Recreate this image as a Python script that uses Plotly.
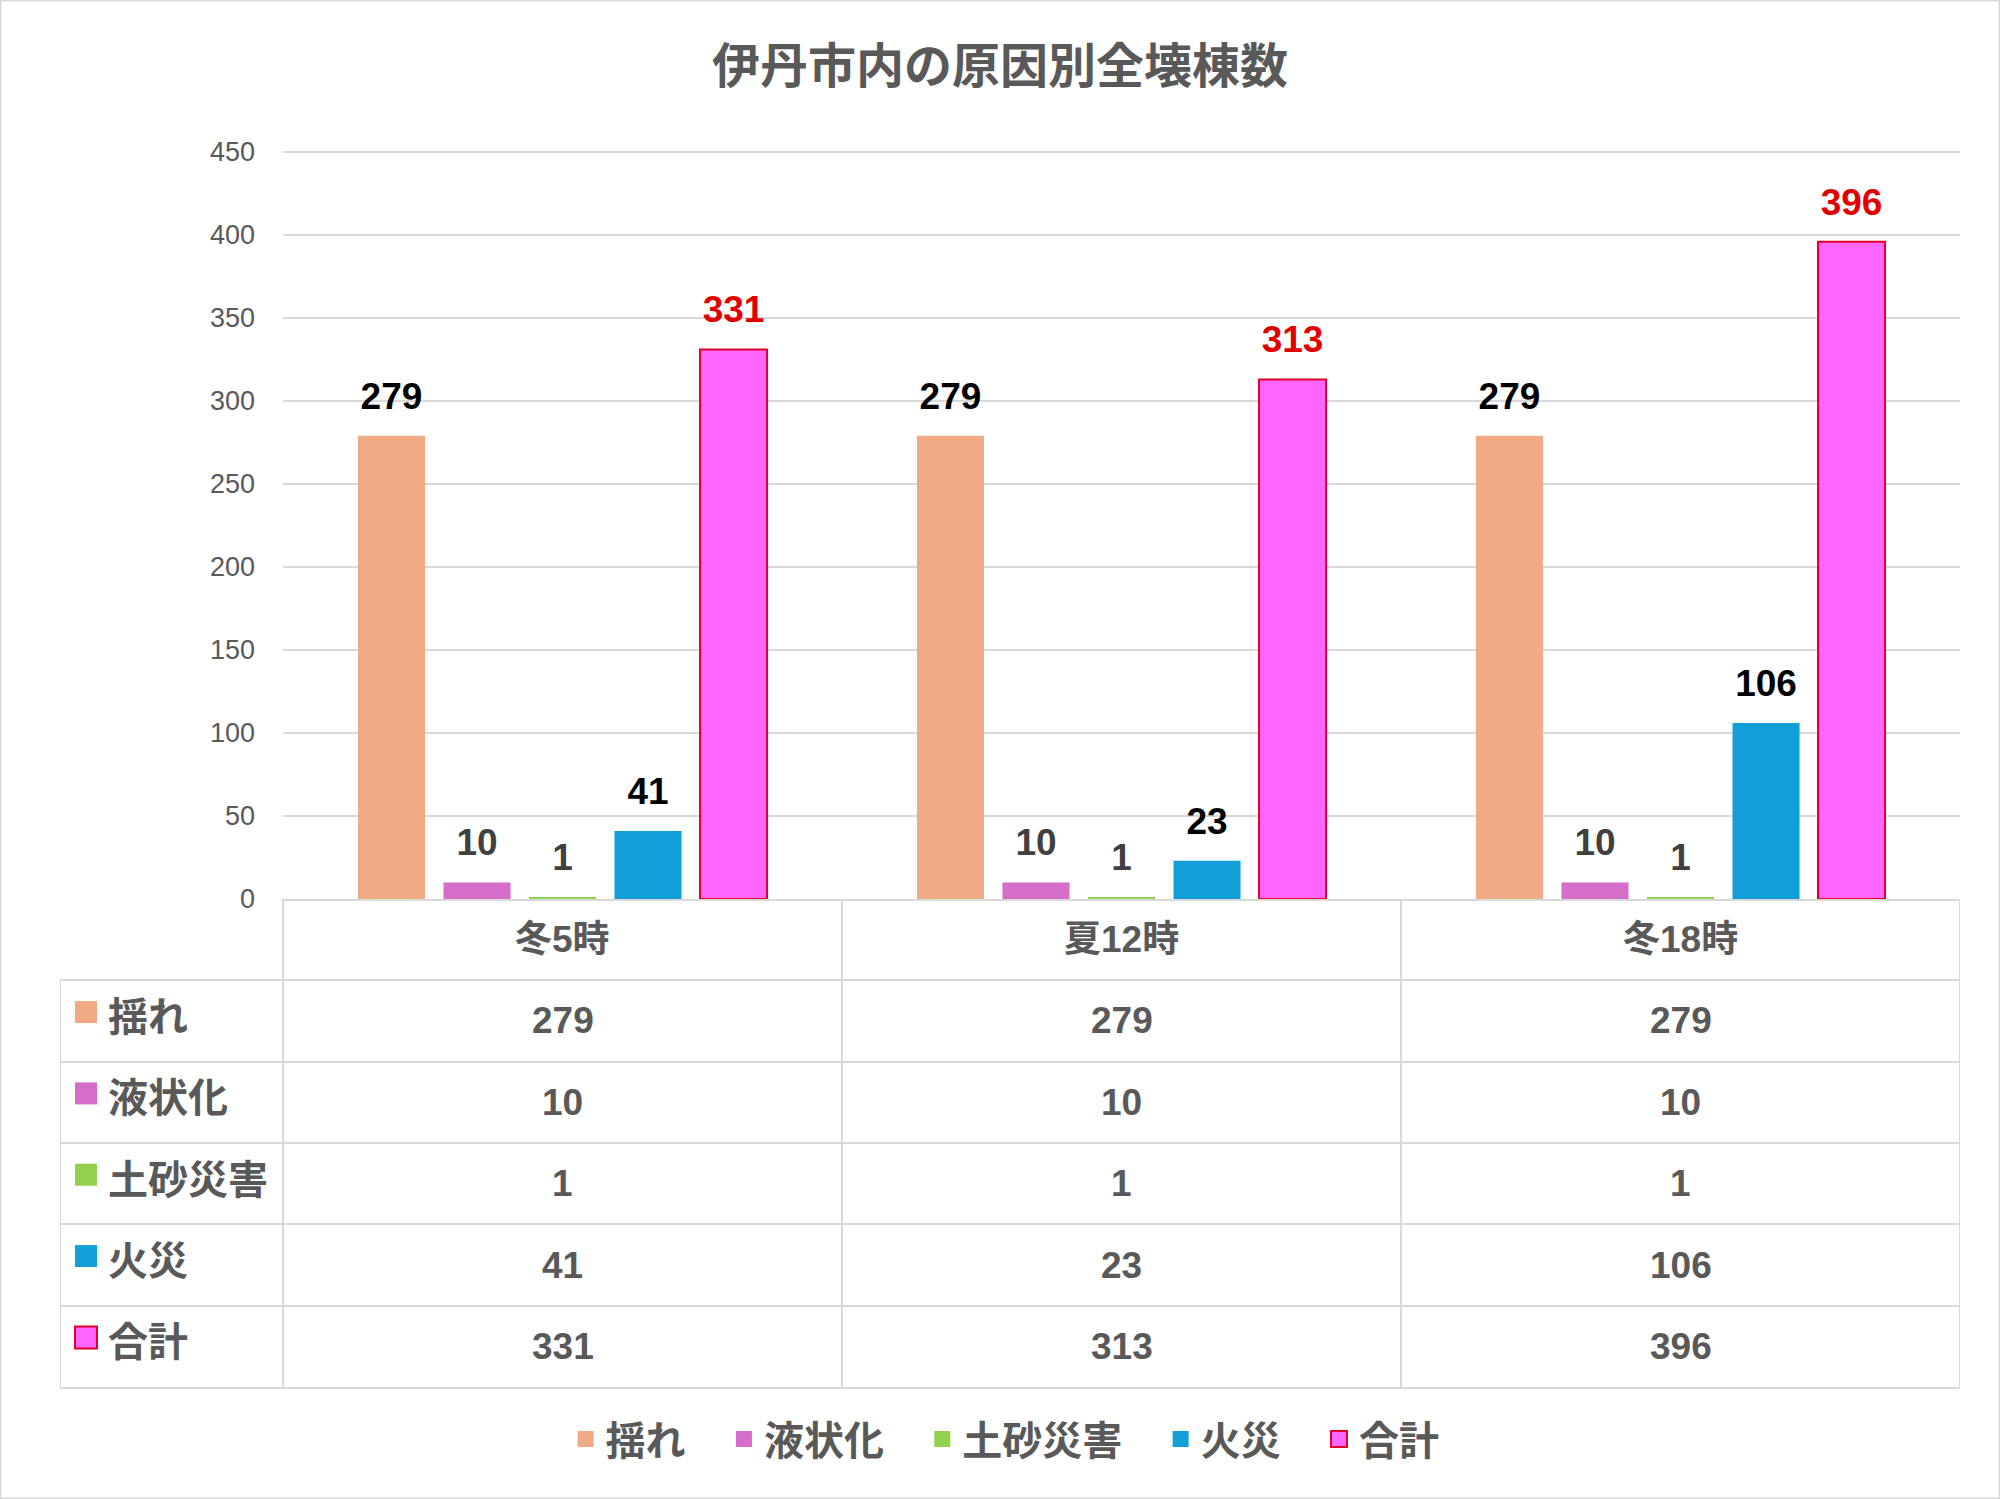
import plotly.graph_objects as go

# data
categories = ["冬5時", "夏12時", "冬18時"]
series_names = ["揺れ", "液状化", "土砂災害", "火災", "合計"]
shake = [279, 279, 279]
liquefaction = [10, 10, 10]
landslide = [1, 1, 1]
fire = [41, 23, 106]
total = [331, 313, 396]
series_values = [shake, liquefaction, landslide, fire, total]
y_max = 450

fill_colors = ["#F0AA86", "#D66DC9", "#92D050", "#129FD7", "#FF66FF"]
line_colors = ["#F0AA86", "#D66DC9", "#92D050", "#129FD7", "#E0002A"]
line_widths = [0, 0, 0, 0, 2]
label_colors = ["#000000", "#404040", "#404040", "#000000", "#E00000"]

FONT = "Liberation Sans, Arial, Noto Sans CJK JP, sans-serif"
GRAY = "#595959"
GRID = "#D9D9D9"

W, H = 2000, 1499
# pixel layout -> paper fractions
plot_l, plot_r, plot_t, plot_b = 283, 1960, 152, 899
table_l, table_b = 60, 1387
px_per_unit = (plot_b - plot_t) / y_max
y_top = y_max + 3                    # a little headroom so the top grid line is drawn
plot_t_ext = plot_b - y_top * px_per_unit
n_rows = len(series_names) + 1       # header + one per series
col_w = (plot_r - plot_l) / len(categories)
x2_min = -0.5 - (plot_l - table_l) / col_w

fig = go.Figure()

for name, vals, fc, lc, lw in zip(series_names, series_values, fill_colors, line_colors, line_widths):
    fig.add_trace(go.Bar(
        x=categories, y=vals, name=name, offsetgroup=name,
        marker=dict(color=fc, line=dict(color=lc, width=lw)),
        showlegend=False, hoverinfo="skip",
    ))

# value labels above bars, grouped like the bars
for name, vals, col in zip(series_names, series_values, label_colors):
    fig.add_trace(go.Scatter(
        x=categories, y=vals, mode="markers+text", orientation="v",
        text=[str(v) for v in vals], textposition="top center",
        textfont=dict(family=FONT, size=37, color=col, weight="bold"),
        marker=dict(size=27, opacity=0),
        offsetgroup=name, showlegend=False, hoverinfo="skip", cliponaxis=False,
    ))

# legend keys in the data table (these also feed the bottom legend)
for i, (name, fc, lc, lw) in enumerate(zip(series_names, fill_colors, line_colors, line_widths)):
    fig.add_trace(go.Scatter(
        x=[x2_min + 26 / col_w], y=[i + 1 - 0.11], mode="markers",
        name=name + "\u00a0\u00a0\u00a0", offsetgroup="key", orientation="v",
        marker=dict(symbol="square", size=22, color=fc, line=dict(color=lc, width=lw)),
        xaxis="x2", yaxis="y2", hoverinfo="skip", cliponaxis=False,
    ))

# table texts
for j, cat in enumerate(categories):
    fig.add_annotation(x=j, y=0, xref="x2", yref="y2", text="<b>" + cat + "</b>",
                       showarrow=False, font=dict(family=FONT, size=37, color=GRAY))
for i, (name, vals) in enumerate(zip(series_names, series_values)):
    fig.add_annotation(x=x2_min + 46 / col_w, y=i + 1, xref="x2", yref="y2", xanchor="left",
                       text="<b>" + name + "</b>", showarrow=False, yshift=4,
                       font=dict(family=FONT, size=40, color=GRAY))
    for j, v in enumerate(vals):
        fig.add_annotation(x=j, y=i + 1, xref="x2", yref="y2", text="<b>" + str(v) + "</b>",
                           showarrow=False, font=dict(family=FONT, size=37, color=GRAY))

# table borders not covered by grid lines
fig.add_shape(type="line", xref="x2", yref="y2", x0=x2_min, x1=x2_min, y0=0.5, y1=n_rows - 0.5,
              line=dict(color=GRID, width=2))
fig.add_shape(type="line", xref="x2", yref="y2", x0=2.5, x1=2.5, y0=-0.5, y1=n_rows - 0.5,
              line=dict(color=GRID, width=2))
# outer frame
fig.add_shape(type="rect", xref="paper", yref="paper", x0=0, x1=1, y0=0, y1=1,
              line=dict(color=GRID, width=3))

fig.update_layout(
    width=W, height=H,
    barmode="group", bargap=0.235, bargroupgap=0.216,
    scattermode="group", scattergap=0.235,
    paper_bgcolor="white", plot_bgcolor="white",
    margin=dict(l=0, r=0, t=0, b=0, autoexpand=False),
    font=dict(family=FONT, color=GRAY),
    title=dict(text="<b>伊丹市内の原因別全壊棟数</b>", x=0.5, xanchor="center",
               y=1 - 66 / H, yanchor="middle",
               font=dict(family=FONT, size=48, color=GRAY)),
    xaxis=dict(domain=[plot_l / W, plot_r / W], showticklabels=False, ticks="",
               showline=True, linecolor=GRID, linewidth=2, showgrid=False, anchor="y"),
    yaxis=dict(domain=[1 - plot_b / H, 1 - plot_t_ext / H], range=[0, y_top],
               tickvals=list(range(0, y_max + 1, 50)),
               showgrid=True, gridcolor=GRID, gridwidth=2, zeroline=False, automargin=False,
               tickfont=dict(size=27, color=GRAY), ticks="", ticklabelstandoff=27),
    xaxis2=dict(domain=[table_l / W, plot_r / W], range=[x2_min, 2.5], anchor="y2",
                tickvals=[-0.5, 0.5, 1.5], showticklabels=False, ticks="",
                showgrid=True, gridcolor=GRID, gridwidth=2, zeroline=False,
                showline=True, linecolor=GRID, linewidth=2),
    yaxis2=dict(domain=[1 - table_b / H, 1 - plot_b / H], range=[n_rows - 0.5, -0.5], anchor="x2",
                tickvals=[k + 0.5 for k in range(n_rows - 1)], showticklabels=False, ticks="",
                showgrid=True, gridcolor=GRID, gridwidth=2, zeroline=False),
    legend=dict(orientation="h", x=0.5108, xanchor="center", y=1 - 1439 / H, yanchor="middle",
                font=dict(family=FONT, size=40, color=GRAY, weight="bold"),
                itemsizing="trace", bgcolor="rgba(0,0,0,0)"),
)

fig.write_html("out.html", config={"displayModeBar": False},
               post_script="document.body.style.margin='0';")
